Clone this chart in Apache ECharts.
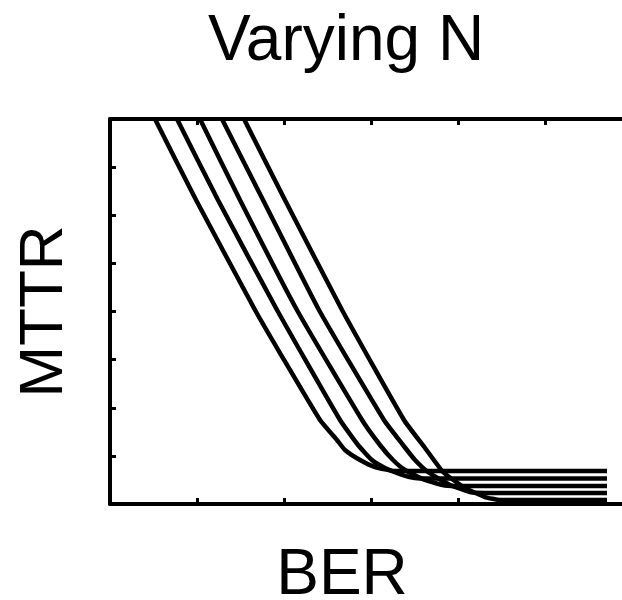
<!DOCTYPE html>
<html>
<head>
<meta charset="utf-8">
<script src="https://cdn.jsdelivr.net/npm/echarts@6/dist/echarts.min.js"></script>
<style>
  html, body { margin: 0; padding: 0; background: #fff; }
  #chart { width: 622px; height: 600px; }
</style>
</head>
<body>
<div id="chart"></div>
<script>
// BER (x) / MTTR (y) readings for each curve, left to right
const curveNames = ['N1', 'N2', 'N3', 'N4', 'N5'];
const ber1 = [0.517, 0.989, 1.667, 1.954, 2.414, 2.609, 2.701, 2.874, 3.046, 3.276, 5.713];
const mttr1 = [8, 6.317, 4.031, 3.137, 1.745, 1.330, 1.122, 0.914, 0.769, 0.686, 0.686];
const ber2 = [0.770, 1.241, 1.920, 2.644, 2.851, 3.011, 3.161, 3.333, 3.506, 3.678, 5.713];
const mttr2 = [8, 6.317, 4.031, 1.745, 1.226, 0.914, 0.748, 0.623, 0.540, 0.530, 0.530];
const ber3 = [1.034, 1.494, 2.149, 2.897, 3.103, 3.253, 3.391, 3.621, 3.851, 4.080, 5.713];
const mttr3 = [8, 6.317, 4.031, 1.745, 1.226, 0.914, 0.706, 0.499, 0.384, 0.374, 0.374];
const ber4 = [1.287, 1.759, 2.402, 3.149, 3.368, 3.506, 3.655, 3.908, 4.138, 4.310, 5.713];
const mttr4 = [8, 6.317, 4.031, 1.745, 1.226, 0.914, 0.665, 0.395, 0.249, 0.229, 0.229];
const ber5 = [1.540, 2.011, 2.667, 3.379, 3.621, 3.828, 4.080, 4.310, 4.483, 5.713];
const mttr5 = [8, 6.317, 4.031, 1.745, 1.164, 0.665, 0.332, 0.145, 0.083, 0.083];

const berList = [ber1, ber2, ber3, ber4, ber5];
const mttrList = [mttr1, mttr2, mttr3, mttr4, mttr5];

const chart = echarts.init(document.getElementById('chart'));

const axisLine = { show: true, lineStyle: { color: '#000', width: 4 } };
const axisTick = { show: true, inside: true, length: 6, lineStyle: { color: '#000', width: 3 } };

const option = {
  backgroundColor: '#fff',
  animation: false,
  title: [
    {
      text: 'Varying N',
      left: 341,
      top: 5,
      textAlign: 'center',
      textStyle: { fontFamily: 'Liberation Sans', fontSize: 64, fontWeight: 'normal', color: '#000' }
    },
    {
      text: 'BER',
      left: 337,
      top: 539,
      textAlign: 'center',
      textStyle: { fontFamily: 'Liberation Sans', fontSize: 64, fontWeight: 'normal', color: '#000' }
    }
  ],
  // plot runs past the right edge of the picture, as in the reference
  grid: { left: 110, top: 119, width: 522, height: 385, outerBoundsMode: 'none' },
  xAxis: [
    {
      type: 'value', position: 'bottom', min: 0, max: 6, interval: 1,
      axisLine, axisTick, axisLabel: { show: false }, splitLine: { show: false }
    },
    {
      type: 'value', position: 'top', min: 0, max: 6, interval: 1,
      axisLine, axisTick, axisLabel: { show: false }, splitLine: { show: false }
    }
  ],
  yAxis: {
    type: 'value', min: 0, max: 8, interval: 1,
    name: 'MTTR', nameLocation: 'middle', nameRotate: 90, nameGap: 34,
    nameTextStyle: { fontFamily: 'Liberation Sans', fontSize: 62, color: '#000' },
    axisLine, axisTick, axisLabel: { show: false }, splitLine: { show: false }
  },
  series: curveNames.map((name, i) => ({
    name: name,
    type: 'line',
    xAxisIndex: 0,
    showSymbol: false,
    smooth: 0.15,
    lineStyle: { color: '#000', width: 4.5 },
    data: berList[i].map((b, j) => [b, mttrList[i][j]])
  }))
};

chart.setOption(option);
</script>
</body>
</html>
